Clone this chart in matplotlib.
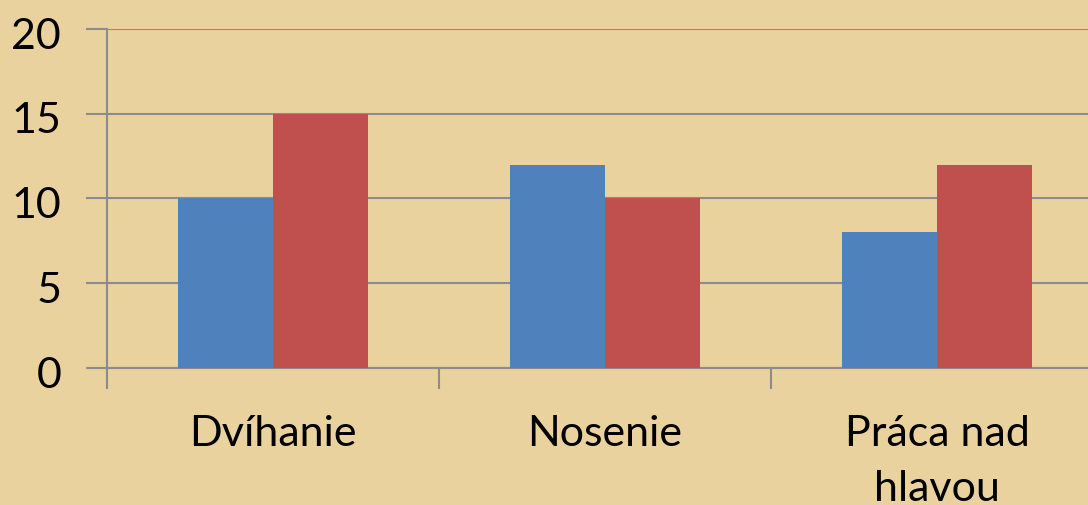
import numpy as np
import matplotlib.pyplot as plt
import matplotlib.transforms as mtransforms

# Data
categories = ['Dvíhanie', 'Nosenie', 'Práca nad\nhlavou']
series_blue = [10, 12, 8]
series_red = [15, 10, 12]
y_ticks = [0, 5, 10, 15, 20]

plt.rcParams['font.family'] = ['Lato', 'DejaVu Sans']

fig = plt.figure(figsize=(10.88, 5.05), dpi=100)
fig.patch.set_facecolor('#EAD29E')

# axes: left at 107 px, right at ~1103 px (beyond the canvas), y 0 at 368 px, 20 at 29 px
W, H = 1088, 505
ax = fig.add_axes([107 / W, (H - 368) / H, (1103 - 107) / W, (368 - 29) / H])
ax.set_facecolor('none')

x = np.arange(len(categories))
w = 0.285
ax.bar(x - w / 2, series_blue, width=w, color='#4F81BD', zorder=3)
ax.bar(x + w / 2, series_red, width=w, color='#C0504D', zorder=3)

ax.set_xlim(-0.5, len(categories) - 0.5)
ax.set_ylim(0, 20)
ax.set_yticks(y_ticks)
ax.yaxis.grid(True, color='#8C8C8C', linewidth=1.5, zorder=0)
ax.set_axisbelow(True)

ax.set_xticks(x)
ax.set_xticklabels(categories, fontsize=31, linespacing=1.55, va='top')
ax.set_xticks(np.arange(len(categories) + 1) - 0.5, minor=True)
ax.tick_params(axis='x', which='major', length=0, pad=34)
ax.tick_params(axis='x', which='minor', length=15, width=1.5, color='#8C8C8C', direction='out')
ax.tick_params(axis='y', length=15, width=1.5, color='#8C8C8C', direction='out', labelsize=31, pad=18)

# y labels sit slightly below their gridlines in the reference
shift = mtransforms.ScaledTranslation(0, -3 / 72, fig.dpi_scale_trans)
for lab in ax.get_yticklabels():
    lab.set_transform(lab.get_transform() + shift)

for s in ['top', 'right']:
    ax.spines[s].set_visible(False)
for s in ['left', 'bottom']:
    ax.spines[s].set_color('#8C8C8C')
    ax.spines[s].set_linewidth(1.5)

fig.savefig('out.png', dpi=100, facecolor=fig.get_facecolor())
